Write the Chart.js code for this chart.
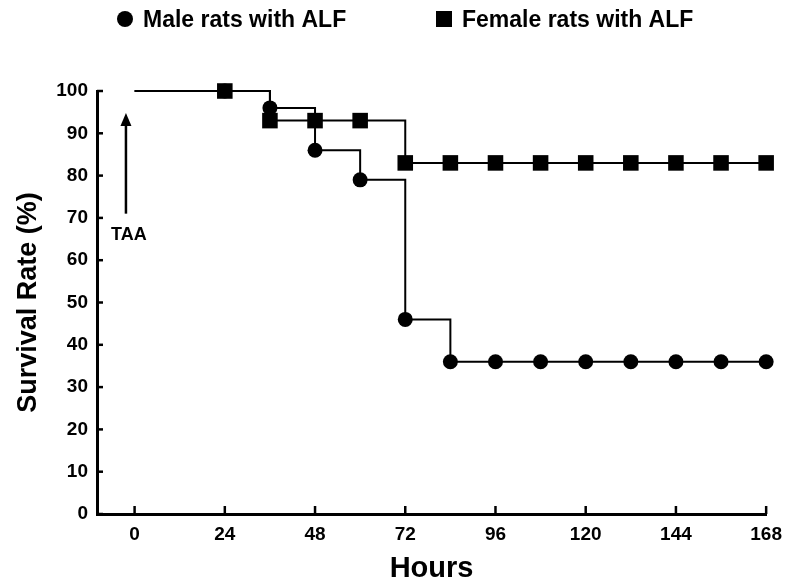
<!DOCTYPE html>
<html>
<head>
<meta charset="utf-8">
<script src="https://cdn.jsdelivr.net/npm/chart.js@4"></script>
<style>
  body { margin: 0; background: #fff; }
</style>
</head>
<body>
<canvas id="survivalChart" width="791" height="588"></canvas>
<script>
const hours = [0, 24, 36, 48, 60, 72, 84, 96, 108, 120, 132, 144, 156, 168];
const maleSurvival = [100, 100, 96, 86, 79, 46, 36, 36, 36, 36, 36, 36, 36, 36];
const femaleSurvival = [100, 100, 93, 93, 93, 83, 83, 83, 83, 83, 83, 83, 83, 83];
const xTicks = [0, 24, 48, 72, 96, 120, 144, 168];
const yTicks = [0, 10, 20, 30, 40, 50, 60, 70, 80, 90, 100];
const seriesLabels = ['Male rats with ALF', 'Female rats with ALF'];

// TAA injection arrow (in data units)
const taaHour = -2.3;
const taaFrom = 71;
const taaTo = 94.8;

const FONT = "'Liberation Sans', Arial, sans-serif";

function toPoints(values) {
  return hours.map((h, i) => ({ x: h, y: values[i] }));
}

// ticks drawn inward, like the original figure
const insideTicks = {
  id: 'insideTicks',
  afterDraw(chart) {
    const ctx = chart.ctx;
    const x = chart.scales.x, y = chart.scales.y;
    const area = chart.chartArea;
    ctx.save();
    ctx.strokeStyle = '#000';
    ctx.lineWidth = 2.5;
    xTicks.forEach(v => {
      const px = x.getPixelForValue(v);
      ctx.beginPath();
      ctx.moveTo(px, area.bottom);
      ctx.lineTo(px, area.bottom - 8);
      ctx.stroke();
    });
    yTicks.forEach(v => {
      const py = y.getPixelForValue(v);
      ctx.beginPath();
      ctx.moveTo(area.left, py);
      ctx.lineTo(area.left + 6, py);
      ctx.stroke();
    });
    ctx.restore();
  }
};

const taaArrow = {
  id: 'taaArrow',
  afterDraw(chart) {
    const ctx = chart.ctx;
    const x = chart.scales.x, y = chart.scales.y;
    const px = x.getPixelForValue(taaHour);
    const top = y.getPixelForValue(taaTo);
    const bottom = y.getPixelForValue(taaFrom);
    ctx.save();
    ctx.strokeStyle = '#000';
    ctx.fillStyle = '#000';
    ctx.lineWidth = 2.5;
    ctx.beginPath();
    ctx.moveTo(px, bottom);
    ctx.lineTo(px, top + 10);
    ctx.stroke();
    ctx.beginPath();
    ctx.moveTo(px, top);
    ctx.lineTo(px - 5.5, top + 13);
    ctx.lineTo(px + 5.5, top + 13);
    ctx.closePath();
    ctx.fill();
    ctx.font = 'bold 18px ' + FONT;
    ctx.textAlign = 'center';
    ctx.textBaseline = 'alphabetic';
    ctx.fillText('TAA', px + 3, bottom + 26);
    ctx.restore();
  }
};

const topLegend = {
  id: 'topLegend',
  afterDraw(chart) {
    const ctx = chart.ctx;
    ctx.save();
    ctx.fillStyle = '#000';
    ctx.beginPath();
    ctx.arc(125, 19, 8, 0, Math.PI * 2);
    ctx.fill();
    ctx.fillRect(436, 11, 16, 16);
    ctx.font = 'bold 23px ' + FONT;
    ctx.textBaseline = 'alphabetic';
    ctx.textAlign = 'left';
    ctx.fillText(seriesLabels[0], 143, 27);
    ctx.fillText(seriesLabels[1], 462, 27);
    ctx.restore();
  }
};

new Chart(document.getElementById('survivalChart'), {
  type: 'line',
  data: {
    datasets: [
      {
        label: seriesLabels[0],
        data: toPoints(maleSurvival),
        borderColor: '#000',
        backgroundColor: '#000',
        borderWidth: 2,
        stepped: 'before',
        pointStyle: 'circle',
        pointRadius: c => c.dataIndex === 0 ? 0 : 7.5,
        pointBorderWidth: 0,
        clip: false,
        order: 1
      },
      {
        label: seriesLabels[1],
        data: toPoints(femaleSurvival),
        borderColor: '#000',
        backgroundColor: '#000',
        borderWidth: 2,
        stepped: 'before',
        pointStyle: 'rect',
        pointRadius: c => c.dataIndex === 0 ? 0 : 11,
        pointBorderWidth: 0,
        clip: false,
        order: 0
      }
    ]
  },
  options: {
    responsive: false,
    animation: false,
    layout: { padding: { top: 91, right: 23, left: 0, bottom: 0 } },
    plugins: {
      legend: { display: false },
      tooltip: { enabled: false }
    },
    scales: {
      x: {
        type: 'linear',
        min: -10,
        max: 168,
        afterBuildTicks: s => { s.ticks = xTicks.map(v => ({ value: v })); },
        afterFit: s => { s.height = 74; },
        grid: { display: true, drawOnChartArea: false, drawTicks: false },
        border: { display: true, color: '#000', width: 3 },
        ticks: {
          color: '#000',
          padding: 9,
          maxRotation: 0,
          font: { family: FONT, size: 19, weight: 'bold' }
        },
        title: {
          display: true,
          text: 'Hours',
          color: '#000',
          padding: { top: 0, bottom: 2 },
          font: { family: FONT, size: 29, weight: 'bold' }
        }
      },
      y: {
        min: 0,
        max: 100,
        afterBuildTicks: s => { s.ticks = yTicks.map(v => ({ value: v })); },
        afterFit: s => { s.width = 97; },
        grid: { display: true, drawOnChartArea: false, drawTicks: false },
        border: { display: true, color: '#000', width: 3 },
        ticks: {
          color: '#000',
          padding: 9,
          font: { family: FONT, size: 19, weight: 'bold' }
        },
        title: {
          display: true,
          text: 'Survival Rate (%)',
          color: '#000',
          padding: { top: 12, bottom: 0 },
          font: { family: FONT, size: 27, weight: 'bold' }
        }
      }
    }
  },
  plugins: [insideTicks, taaArrow, topLegend]
});
</script>
</body>
</html>
